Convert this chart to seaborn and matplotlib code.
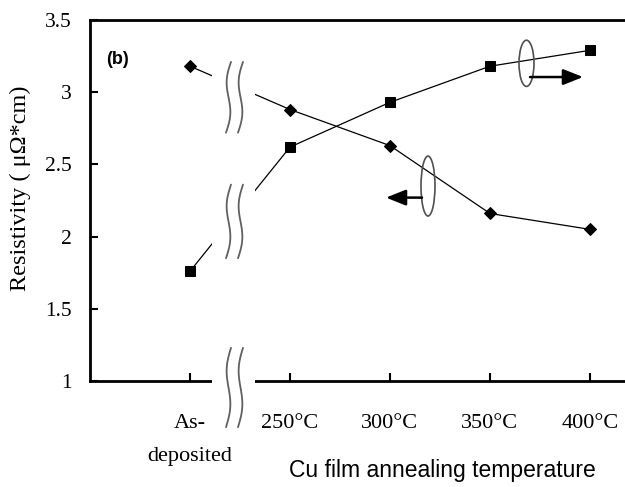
import numpy as np
import pandas as pd
import matplotlib
matplotlib.use("Agg")
import matplotlib.pyplot as plt
from matplotlib.patches import Ellipse, Rectangle
import seaborn as sns

# ---- data ----
categories = ["As-\ndeposited", "250°C", "300°C", "350°C", "400°C"]
resistivity = [3.18, 2.88, 2.63, 2.16, 2.05]          # diamonds (left axis)
second_series = [1.76, 2.62, 2.93, 3.18, 3.29]        # squares (right-axis series)
ytick_values = [1, 1.5, 2, 2.5, 3, 3.5]
ytick_labels = ["1", "1.5", "2", "2.5", "3", "3.5"]

sns.set_theme(style="white")
plt.rcParams["font.family"] = ["Liberation Serif", "DejaVu Serif"]

pos = np.arange(len(categories))
df = pd.DataFrame({"pos": pos, "res": resistivity, "sec": second_series})

fig = plt.figure(figsize=(6.25, 4.87), dpi=100)
ax = fig.add_axes([90 / 625, 1 - 381 / 487, 560 / 625, 361 / 487])

sns.lineplot(data=df, x="pos", y="res", ax=ax, color="black", linewidth=0.9,
             marker="D", markersize=6.3, markeredgecolor="black", zorder=2)
sns.lineplot(data=df, x="pos", y="sec", ax=ax, color="black", linewidth=0.9,
             marker="s", markersize=7, markeredgecolor="black", zorder=2)

ax.set_xlim(-1, 4.6)
ax.set_ylim(1, 3.5)

for side in ["left", "bottom", "top"]:
    ax.spines[side].set_color("black")
    ax.spines[side].set_linewidth(2)
ax.spines["right"].set_visible(False)

ax.set_yticks(ytick_values)
ax.set_yticklabels(ytick_labels)
ax.set_xticks(pos)
ax.set_xticklabels(categories, linespacing=1.95)
ax.tick_params(axis="y", direction="in", length=6, width=1.5, pad=13,
               labelsize=15.5, left=True, colors="black")
ax.tick_params(axis="x", direction="in", length=6, width=1.5, pad=24,
               labelsize=16, bottom=True, colors="black")
for lab in ax.get_xticklabels() + ax.get_yticklabels():
    lab.set_color("black")

ax.set_xlabel("")
ax.set_ylabel("")
fig.text(442 / 625, 1 - 471 / 487, "Cu film annealing temperature",
         family=["Liberation Sans"], fontsize=16.5, color="black",
         ha="center", va="center")
fig.text(20 / 625, 1 - 188 / 487, "Resistivity ( μΩ*cm)", rotation=90,
         fontsize=17.5, color="black", ha="center", va="center")

# axis break: white band hiding lines and bottom spine
band = Rectangle((0.22, 0.85), 0.43, 2.58, transform=ax.transData,
                 facecolor="white", edgecolor="none", zorder=3, clip_on=False)
ax.add_patch(band)

t = np.linspace(0, 1, 60)
for (ytop, ybot) in [(3.21, 2.72), (2.36, 1.85), (1.23, 0.68)]:
    yy = ytop + (ybot - ytop) * t
    for x0 in [0.385, 0.505]:
        xx = x0 - 0.03 * np.sin(2 * np.pi * t) - 0.05 * (t - 0.5)
        ax.plot(xx, yy, color="#606060", lw=1.3, zorder=4, clip_on=False)

# series indicator ellipses and arrows
ax.add_patch(Ellipse((3.365, 3.20), 0.15, 0.32, fill=False, edgecolor="#505050",
                     lw=1.2, zorder=4))
ax.annotate("", xy=(3.93, 3.105), xytext=(3.40, 3.105),
            arrowprops=dict(arrowstyle="-|>,head_length=1.0,head_width=0.4",
                            color="black", lw=1.8, shrinkA=0, shrinkB=0), zorder=4)
ax.add_patch(Ellipse((2.38, 2.35), 0.14, 0.415, fill=False, edgecolor="#505050",
                     lw=1.2, zorder=4))
ax.annotate("", xy=(1.96, 2.27), xytext=(2.32, 2.27),
            arrowprops=dict(arrowstyle="-|>,head_length=1.0,head_width=0.4",
                            color="black", lw=1.8, shrinkA=0, shrinkB=0), zorder=4)

ax.text(106 / 625, 1 - 60 / 487, "(b)", transform=fig.transFigure,
        family=["Liberation Sans"], fontweight="bold", fontsize=13,
        va="center", ha="left", color="black")

fig.savefig("out.png", dpi=100)
